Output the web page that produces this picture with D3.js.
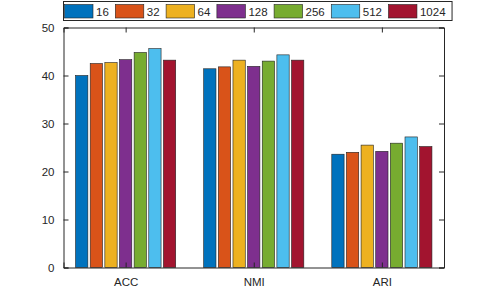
<!DOCTYPE html>
<html>
<head>
<meta charset="utf-8">
<script src="https://cdn.jsdelivr.net/npm/d3@7"></script>
<style>
  body { margin: 0; background: #fff; }
  text { font-family: "Liberation Sans", Arial, sans-serif; fill: #262626; }
</style>
</head>
<body>
<svg id="chart"></svg>
<script>
// categorie e serie
var categorie = ["ACC", "NMI", "ARI"];
var serie = ["16", "32", "64", "128", "256", "512", "1024"];
var colori = ["#0072BD", "#D95319", "#EDB120", "#7E2F8E", "#77AC30", "#4DBEEE", "#A2142F"];

// valori (una riga per categoria)
var valoriACC = [40.0, 42.5, 42.7, 43.3, 44.8, 45.6, 43.2];
var valoriNMI = [41.4, 41.8, 43.2, 41.9, 43.0, 44.3, 43.2];
var valoriARI = [23.6, 24.0, 25.5, 24.2, 25.9, 27.2, 25.2];
var yTicks = [0, 10, 20, 30, 40, 50];

var valori = [valoriACC, valoriNMI, valoriARI];

var w = 491, h = 301;
var margin = { top: 27.5, right: 47, bottom: 33.5, left: 63.5 };
var innerW = w - margin.left - margin.right;
var innerH = h - margin.top - margin.bottom;

var svg = d3.select("#chart").attr("width", w).attr("height", h);
var g = svg.append("g").attr("transform", "translate(" + margin.left + "," + margin.top + ")");

// scale: x continua come in MATLAB
var x = d3.scaleLinear().domain([0.515, 3.485]).range([0, innerW]);
var y = d3.scaleLinear().domain([0, 50]).range([innerH, 0]);

var unita = x(2) - x(1);
var larghGruppo = unita * 0.8;
var passo = larghGruppo / serie.length;
var larghBarra = passo * 0.84;

// barre
categorie.forEach(function(c, i) {
  var gruppo = g.append("g");
  gruppo.selectAll("rect")
    .data(valori[i])
    .enter()
    .append("rect")
    .attr("x", function(d, j) { return x(i + 1) - larghGruppo / 2 + j * passo + (passo - larghBarra) / 2; })
    .attr("y", function(d) { return y(d); })
    .attr("width", larghBarra)
    .attr("height", function(d) { return y(0) - y(d); })
    .attr("fill", function(d, j) { return colori[j]; })
    .attr("stroke", "#222")
    .attr("stroke-width", 0.6);
});

// assi con tick interni
var assi = [
  { ax: d3.axisLeft(y).tickValues(yTicks).tickSize(-5).tickPadding(9), t: "translate(0,0)" },
  { ax: d3.axisRight(y).tickValues(yTicks).tickSize(-5).tickFormat(""), t: "translate(" + innerW + ",0)" },
  { ax: d3.axisBottom(x).tickValues([1, 2, 3]).tickSize(-5).tickPadding(10).tickFormat(function(d) { return categorie[d - 1]; }), t: "translate(0," + innerH + ")" },
  { ax: d3.axisTop(x).tickValues([1, 2, 3]).tickSize(-5).tickFormat(""), t: "translate(0,0)" }
];
assi.forEach(function(a) {
  var s = g.append("g").attr("transform", a.t).call(a.ax);
  s.select(".domain").attr("stroke", "#262626").attr("stroke-width", 1);
  s.selectAll(".tick line").attr("stroke", "#262626");
  s.selectAll(".tick text").style("font-size", "11.5px").attr("fill", "#262626");
});

// legenda orizzontale in alto
var leg = svg.append("g");
var legBox = leg.append("rect")
  .attr("x", 63.5).attr("y", 1.5).attr("height", 19)
  .attr("fill", "#fff").attr("stroke", "#262626").attr("stroke-width", 1);
var cx = 64.5;
serie.forEach(function(s, j) {
  leg.append("rect")
    .attr("x", cx).attr("y", 4.5).attr("width", 28.5).attr("height", 13.5)
    .attr("fill", colori[j]).attr("stroke", "#222").attr("stroke-width", 0.6);
  var t = leg.append("text")
    .attr("x", cx + 31.5).attr("y", 15.5)
    .style("font-size", "11.5px")
    .text(s);
  cx = cx + 31.5 + t.node().getComputedTextLength() + 6.5;
});
legBox.attr("width", Math.max(cx - 63.5, 383));
</script>
</body>
</html>
